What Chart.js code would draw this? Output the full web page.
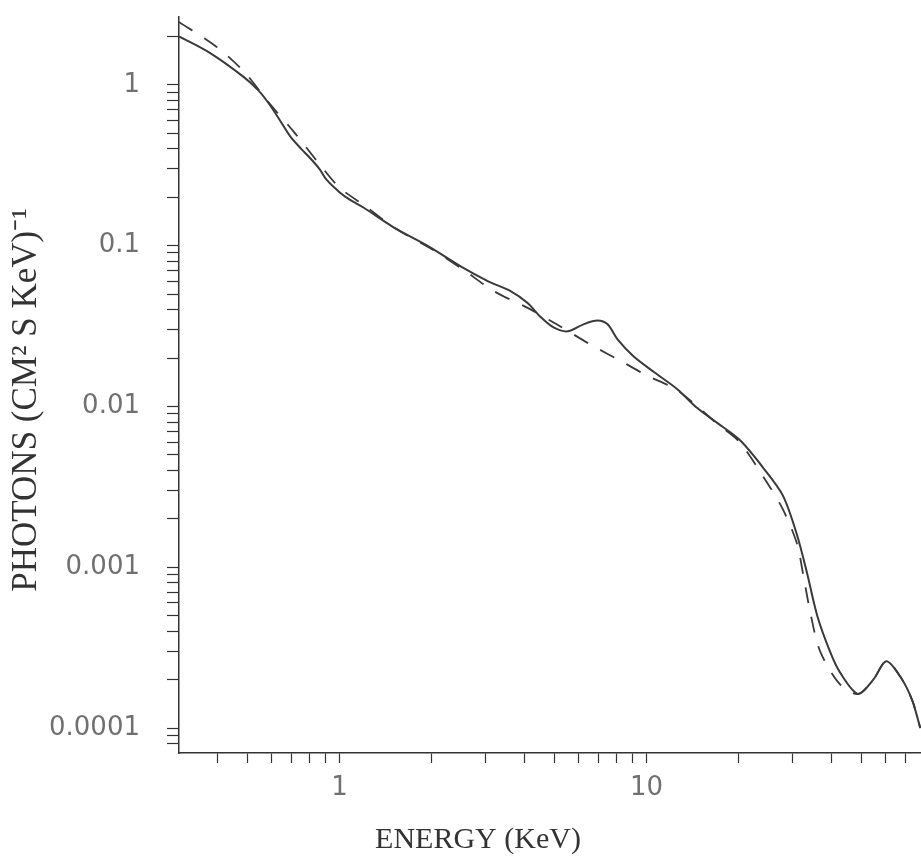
<!DOCTYPE html>
<html>
<head>
<meta charset="utf-8">
<script src="https://cdn.jsdelivr.net/npm/chart.js@4"></script>
<style>
  html, body { margin: 0; padding: 0; background: #fff; }
  #wrap { width: 921px; height: 861px; }
</style>
</head>
<body>
<div id="wrap"><canvas id="specChart" width="921" height="861"></canvas></div>
<script>
// model spectrum (solid) - energy in keV, photons / cm2 s keV
var energySolid = [0.30, 0.378, 0.487, 0.545, 0.59, 0.64, 0.69, 0.75, 0.80, 0.86, 0.907, 1.0, 1.08, 1.2, 1.5, 1.95, 2.49, 3.05, 3.62, 4.1, 4.52, 4.98, 5.53, 6.23, 6.92, 7.47, 8.05, 9.07, 10.6, 12.6, 14.6, 17.0, 20.1, 23.9, 27.8, 30.9, 33.3, 36.0, 39.6, 42.7, 48.9, 54.8, 60.4, 67.0, 73.3, 78.0];
var fluxSolid   = [2.0, 1.58, 1.12, 0.92, 0.76, 0.60, 0.48, 0.40, 0.352, 0.30, 0.257, 0.215, 0.193, 0.172, 0.13, 0.099, 0.074, 0.060, 0.052, 0.044, 0.036, 0.031, 0.0293, 0.0324, 0.0342, 0.0324, 0.0261, 0.0205, 0.0163, 0.0128, 0.0098, 0.0079, 0.0062, 0.0042, 0.0028, 0.0016, 0.00093, 0.00050, 0.0003, 0.000222, 0.000163, 0.0002, 0.00026, 0.00021, 0.00015, 0.0001];

// comparison spectrum (dashed)
var energyDash = [0.30, 0.398, 0.49, 0.59, 0.71, 0.84, 1.0, 1.22, 1.5, 2.0, 2.5, 3.19, 4.1, 5.1, 6.56, 8.4, 10.0, 12.6, 17.0, 20.1, 24.6, 27.8, 30.9, 32.4, 34.2, 36.8, 42.7, 48.9, 54.8, 60.4, 67.0, 73.3, 78.0];
var fluxDash   = [2.46, 1.72, 1.2, 0.77, 0.51, 0.34, 0.23, 0.175, 0.13, 0.095, 0.072, 0.052, 0.041, 0.0324, 0.0243, 0.0188, 0.0156, 0.0126, 0.0078, 0.006, 0.0034, 0.0023, 0.00141, 0.0009, 0.00052, 0.0003, 0.000187, 0.000163, 0.0002, 0.00026, 0.00021, 0.00015, 0.0001];

var xDecades = [1, 10];
var yDecades = [1, 0.1, 0.01, 0.001, 0.0001];
var xMin = 0.304, xMax = 78.4;
var yMin = 7.1e-5, yMax = 2.64;

var xTitle = 'ENERGY (KeV)';
var yTitle = 'PHOTONS (CM² S KeV)⁻¹';

function toPoints(xs, ys) {
  return xs.map(function (x, i) { return { x: x, y: ys[i] }; });
}

// 1..9 x each decade, kept inside the axis range
function logTicks(min, max) {
  var out = [];
  for (var p = Math.floor(Math.log10(min)); p <= Math.ceil(Math.log10(max)); p++) {
    for (var m = 1; m <= 9; m++) {
      var v = parseFloat((m * Math.pow(10, p)).toPrecision(6));
      if (v >= min && v <= max) out.push({ value: v });
    }
  }
  return out;
}

function isDecade(v, list) {
  return list.some(function (d) { return Math.abs(v - d) / d < 1e-6; });
}

var lineColor = '#3a3a3a';
var axisColor = '#333';

// axis titles sit off-centre in the original, so draw them by hand
var axisTitles = {
  id: 'axisTitles',
  afterDraw: function (chart) {
    var ctx = chart.ctx;
    ctx.save();
    ctx.fillStyle = axisColor;
    ctx.textAlign = 'center';
    ctx.textBaseline = 'middle';
    ctx.font = '30px "Liberation Serif"';
    ctx.fillText(xTitle, 478, 840);
    ctx.translate(27, 400);
    ctx.rotate(-Math.PI / 2);
    ctx.font = '35px "Liberation Serif"';
    ctx.fillText(yTitle, 0, 0);
    ctx.restore();
  }
};

new Chart(document.getElementById('specChart').getContext('2d'), {
  type: 'line',
  data: {
    datasets: [{
      label: 'model',
      data: toPoints(energySolid, fluxSolid),
      borderColor: lineColor,
      borderWidth: 2,
      pointRadius: 0,
      tension: 0.3,
      fill: false
    }, {
      label: 'fit',
      data: toPoints(energyDash, fluxDash),
      borderColor: lineColor,
      borderWidth: 1.8,
      borderDash: [16, 14],
      pointRadius: 0,
      tension: 0.3,
      fill: false
    }]
  },
  plugins: [axisTitles],
  options: {
    responsive: false,
    animation: false,
    layout: { padding: { left: 0, top: 17, right: 0, bottom: 0 } },
    plugins: { legend: { display: false }, tooltip: { enabled: false } },
    scales: {
      x: {
        type: 'logarithmic',
        min: xMin,
        max: xMax,
        afterBuildTicks: function (scale) { scale.ticks = logTicks(xMin, xMax); },
        afterFit: function (scale) { scale.height = 108; scale.paddingLeft = 0; scale.paddingRight = 0; },
        grid: { drawOnChartArea: false, drawTicks: true, tickLength: 10, color: axisColor, tickWidth: 1.2 },
        border: { display: true, color: axisColor, width: 1.5 },
        ticks: {
          autoSkip: false,
          maxRotation: 0,
          padding: 10,
          color: '#707070',
          font: { family: 'DejaVu Sans', size: 26 },
          callback: function (v) { return isDecade(v, xDecades) ? String(v) : ''; }
        },
        title: { display: false }
      },
      y: {
        type: 'logarithmic',
        min: yMin,
        max: yMax,
        afterBuildTicks: function (scale) { scale.ticks = logTicks(yMin, yMax); },
        afterFit: function (scale) { scale.width = 179; scale.paddingTop = 0; scale.paddingBottom = 0; },
        grid: { drawOnChartArea: false, drawTicks: true, tickLength: 12, color: axisColor, tickWidth: 1.2 },
        border: { display: true, color: axisColor, width: 1.5 },
        ticks: {
          autoSkip: false,
          padding: 27,
          color: '#707070',
          font: { family: 'DejaVu Sans', size: 26 },
          callback: function (v) { return isDecade(v, yDecades) ? String(v) : ''; }
        },
        title: { display: false }
      }
    }
  }
});
</script>
</body>
</html>
